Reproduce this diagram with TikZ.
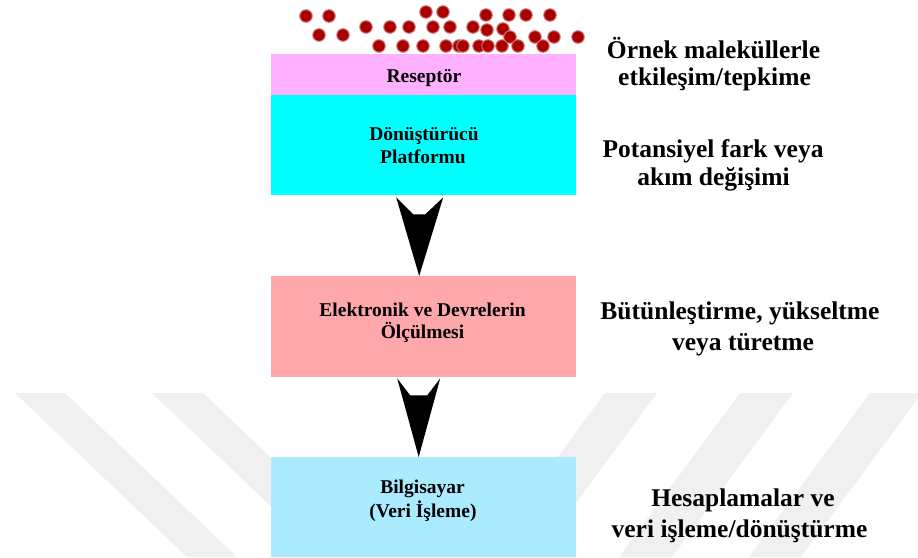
\documentclass[tikz,border=0pt]{standalone}
\usepackage{fontspec}
\setmainfont{Liberation Serif}
\usetikzlibrary{calc}
\definecolor{recpink}{HTML}{FFB0FF}
\definecolor{trcyan}{HTML}{00FFFF}
\definecolor{elpink}{HTML}{FFA8AB}
\definecolor{pcblue}{HTML}{ABEBFF}
\definecolor{dotred}{HTML}{AA0000}
\definecolor{wmgray}{HTML}{F0F0F0}
\begin{document}
\begin{tikzpicture}[x=1pt,y=-1pt,
  box/.style={rectangle, draw=none, minimum width=305pt, inner sep=0pt, anchor=north west},
  boxtxt/.style={anchor=base, inner sep=0pt, font=\fontsize{19.5}{22}\selectfont\bfseries},
  sidetxt/.style={anchor=base, inner sep=0pt, font=\fontsize{25.5}{30}\selectfont\bfseries},
  mol/.style={circle, fill=dotred, draw=dotred!55, line width=1pt, inner sep=0pt, minimum size=12.5pt},
  wmstripe/.style={fill=wmgray},
  bigarrow/.style={fill=black}]
\useasboundingbox (0,0) rectangle (918,557);
\fill[white] (0,0) rectangle (918,557);

% watermark stripes
\fill[wmstripe] (15,393) -- (65,393) -- (237,557) -- (187,557) -- cycle;
\fill[wmstripe] (152,393) -- (203,393) -- (375,557) -- (324,557) -- cycle;
\fill[wmstripe] (605,393) -- (657,393) -- (536,557) -- (484,557) -- cycle;
\fill[wmstripe] (740,393) -- (793,393) -- (672,557) -- (619,557) -- cycle;
\fill[wmstripe] (870,393) -- (922,393) -- (801,557) -- (749,557) -- cycle;

% boxes
\node[box, fill=recpink, minimum height=41pt] (rec) at (271,54) {};
\node[box, fill=trcyan, minimum height=100pt] (trans) at (271,95) {};
\node[box, fill=elpink, minimum height=101pt] (elec) at (271,276) {};
\node[box, fill=pcblue, minimum height=100pt] (comp) at (271,457) {};

% box texts
\node[boxtxt] (recT) at (424,82) {Reseptör};
\node[boxtxt] (transT1) at (424,140) {Dönüştürücü};
\node[boxtxt] (transT2) at (423,163) {Platformu};
\node[boxtxt] (elecT1) at (422.5,316) {Elektronik ve Devrelerin};
\node[boxtxt] (elecT2) at (422.5,338) {Ölçülmesi};
\node[boxtxt] (compT1) at (422.5,493) {Bilgisayar};
\node[boxtxt] (compT2) at (423,517) {(Veri İşleme)};

% arrows
\coordinate (tipA) at ($(elec.north)+(-4.5,0)$);
\coordinate (tipB) at ($(comp.north)+(-5,0)$);
\fill[bigarrow] ($(trans.south)+(-27.5,2)$) -- ($(trans.south)+(-10.5,19)$)
  -- ($(trans.south)+(1.5,19)$) -- ($(trans.south)+(19.5,2)$) -- (tipA) -- cycle;
\fill[bigarrow] ($(elec.south)+(-26.5,1)$) -- ($(elec.south)+(-13.5,18)$)
  -- ($(elec.south)+(3.5,18)$) -- ($(elec.south)+(16.5,1)$) -- (tipB) -- cycle;

% molecules
\foreach \px/\py [count=\i] in {306/16,329/16,319/35,343/35,366/27,379/46,390/27,403/46,
  409/27,423/46,426/12,443/12,433/27,450/27,446/46,459/46,463/46,473/27,479/46,
  486/15,487/30,488/46,502/46,503/29,509/15,510/37,518/46,526/15,535/37,543/46,
  550/15,554/37,578/37}
  \node[mol] (m\i) at (\px,\py) {};

% side texts
\node[sidetxt] (s1a) at (713.5,58) {Örnek maleküllerle};
\node[sidetxt] (s1b) at (714.5,85) {etkileşim/tepkime};
\node[sidetxt] (s2a) at (713,157) {Potansiyel fark veya};
\node[sidetxt] (s2b) at (713.5,185) {akım değişimi};
\node[sidetxt] (s3a) at (740,319) {Bütünleştirme, yükseltme};
\node[sidetxt] (s3b) at (743,350) {veya türetme};
\node[sidetxt] (s4a) at (743,506) {Hesaplamalar ve};
\node[sidetxt] (s4b) at (739.5,537) {veri işleme/dönüştürme};
\end{tikzpicture}
\end{document}
